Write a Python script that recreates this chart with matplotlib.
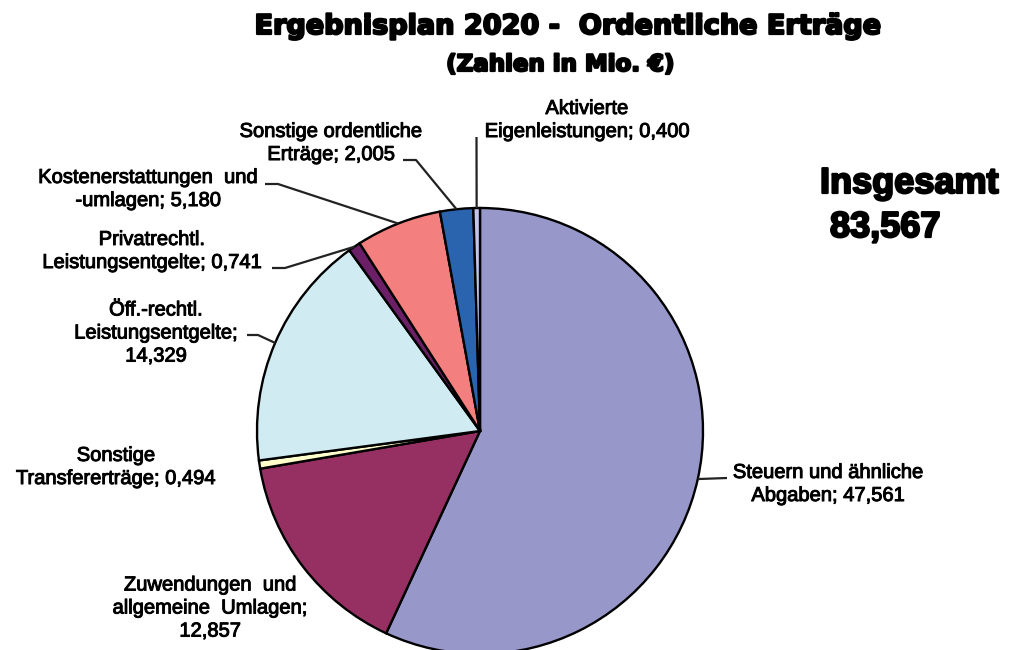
import matplotlib
matplotlib.use("Agg")
import matplotlib.pyplot as plt
import matplotlib.patheffects as pe
import numpy as np

# ---- data ----
categories = [
    "Steuern und ähnliche\nAbgaben",
    "Zuwendungen  und\nallgemeine  Umlagen",
    "Sonstige\nTransfererträge",
    "Öff.-rechtl.\nLeistungsentgelte",
    "Privatrechtl.\nLeistungsentgelte",
    "Kostenerstattungen  und\n-umlagen",
    "Sonstige ordentliche\nErträge",
    "Aktivierte\nEigenleistungen",
]
values = [47.561, 12.857, 0.494, 14.329, 0.741, 5.180, 2.005, 0.400]
value_on_new_line = [False, True, False, True, False, False, False, False]
colors = ["#9797CA", "#963062", "#FFFFCC", "#D0ECF2", "#6A1F66", "#F47F7F", "#2A64AE", "#C4C4EC"]

title = "Ergebnisplan 2020 -  Ordentliche Erträge"
subtitle = "(Zahlen in Mio. €)"
total_label = "Insgesamt"
total_value = "83,567"

W, H = 1012, 650
fig = plt.figure(figsize=(W / 100, H / 100), dpi=100)
ax = fig.add_axes([0, 0, 1, 1])


def P(x, y):
    return x, H - y


cx, cy = P(480, 431)
R = 223
wedges, _ = ax.pie(values, colors=colors, startangle=90, counterclock=False,
                   center=(cx, cy), radius=R,
                   wedgeprops=dict(edgecolor="black", linewidth=1.7))
ax.set_xlim(0, W)
ax.set_ylim(0, H)
ax.set_aspect("auto")
ax.axis("off")

# label positions (pixel centres of the text block) and leader-line elbows
label_pos = [(828, 484), (210, 608), (116, 467), (156, 333),
             (152, 251), (148, 189), (331, 143), (587, 120)]
leaders = [
    [(727, 478)],
    None,
    None,
    [(258, 335), (247, 335)],
    [(285, 268), (272, 268)],
    [(278, 184), (265, 184)],
    [(416, 160), (403, 160)],
    [(476.5, 137)],
]

thin = [pe.withStroke(linewidth=0.7, foreground="black")]
lab_font = dict(family=["Liberation Sans", "DejaVu Sans"], fontsize=14.5, color="black")
for w, name, v, nl, pos, ld in zip(wedges, categories, values, value_on_new_line, label_pos, leaders):
    val = f"{v:.3f}".replace(".", ",")
    txt = name + (";\n" if nl else "; ") + val
    ax.text(*P(*pos), txt, ha="center", va="center", linespacing=1.27,
            path_effects=thin, **lab_font)
    if ld:
        ang = np.deg2rad((w.theta1 + w.theta2) / 2)
        ex, ey = cx + R * np.cos(ang), cy + R * np.sin(ang)
        xs = [ex] + [p[0] for p in ld]
        ys = [ey] + [H - p[1] for p in ld]
        ax.plot(xs, ys, color="#222222", lw=1.6, solid_capstyle="butt")

heavy = [pe.withStroke(linewidth=1.6, foreground="black")]
ax.text(*P(568, 34), title, ha="center", va="baseline",
        family="DejaVu Sans", fontweight="bold", fontsize=19.5, path_effects=heavy)
ax.text(*P(560, 71), subtitle, ha="center", va="baseline",
        family="DejaVu Sans", fontweight="bold", fontsize=16.5, path_effects=heavy)
ax.text(*P(820, 193), total_label, ha="left", va="baseline",
        family="Liberation Sans", fontweight="bold", fontsize=26, path_effects=heavy)
ax.text(*P(830, 237), total_value, ha="left", va="baseline",
        family="Liberation Sans", fontweight="bold", fontsize=26, path_effects=heavy)

fig.savefig("out.png", dpi=100, facecolor="white")
